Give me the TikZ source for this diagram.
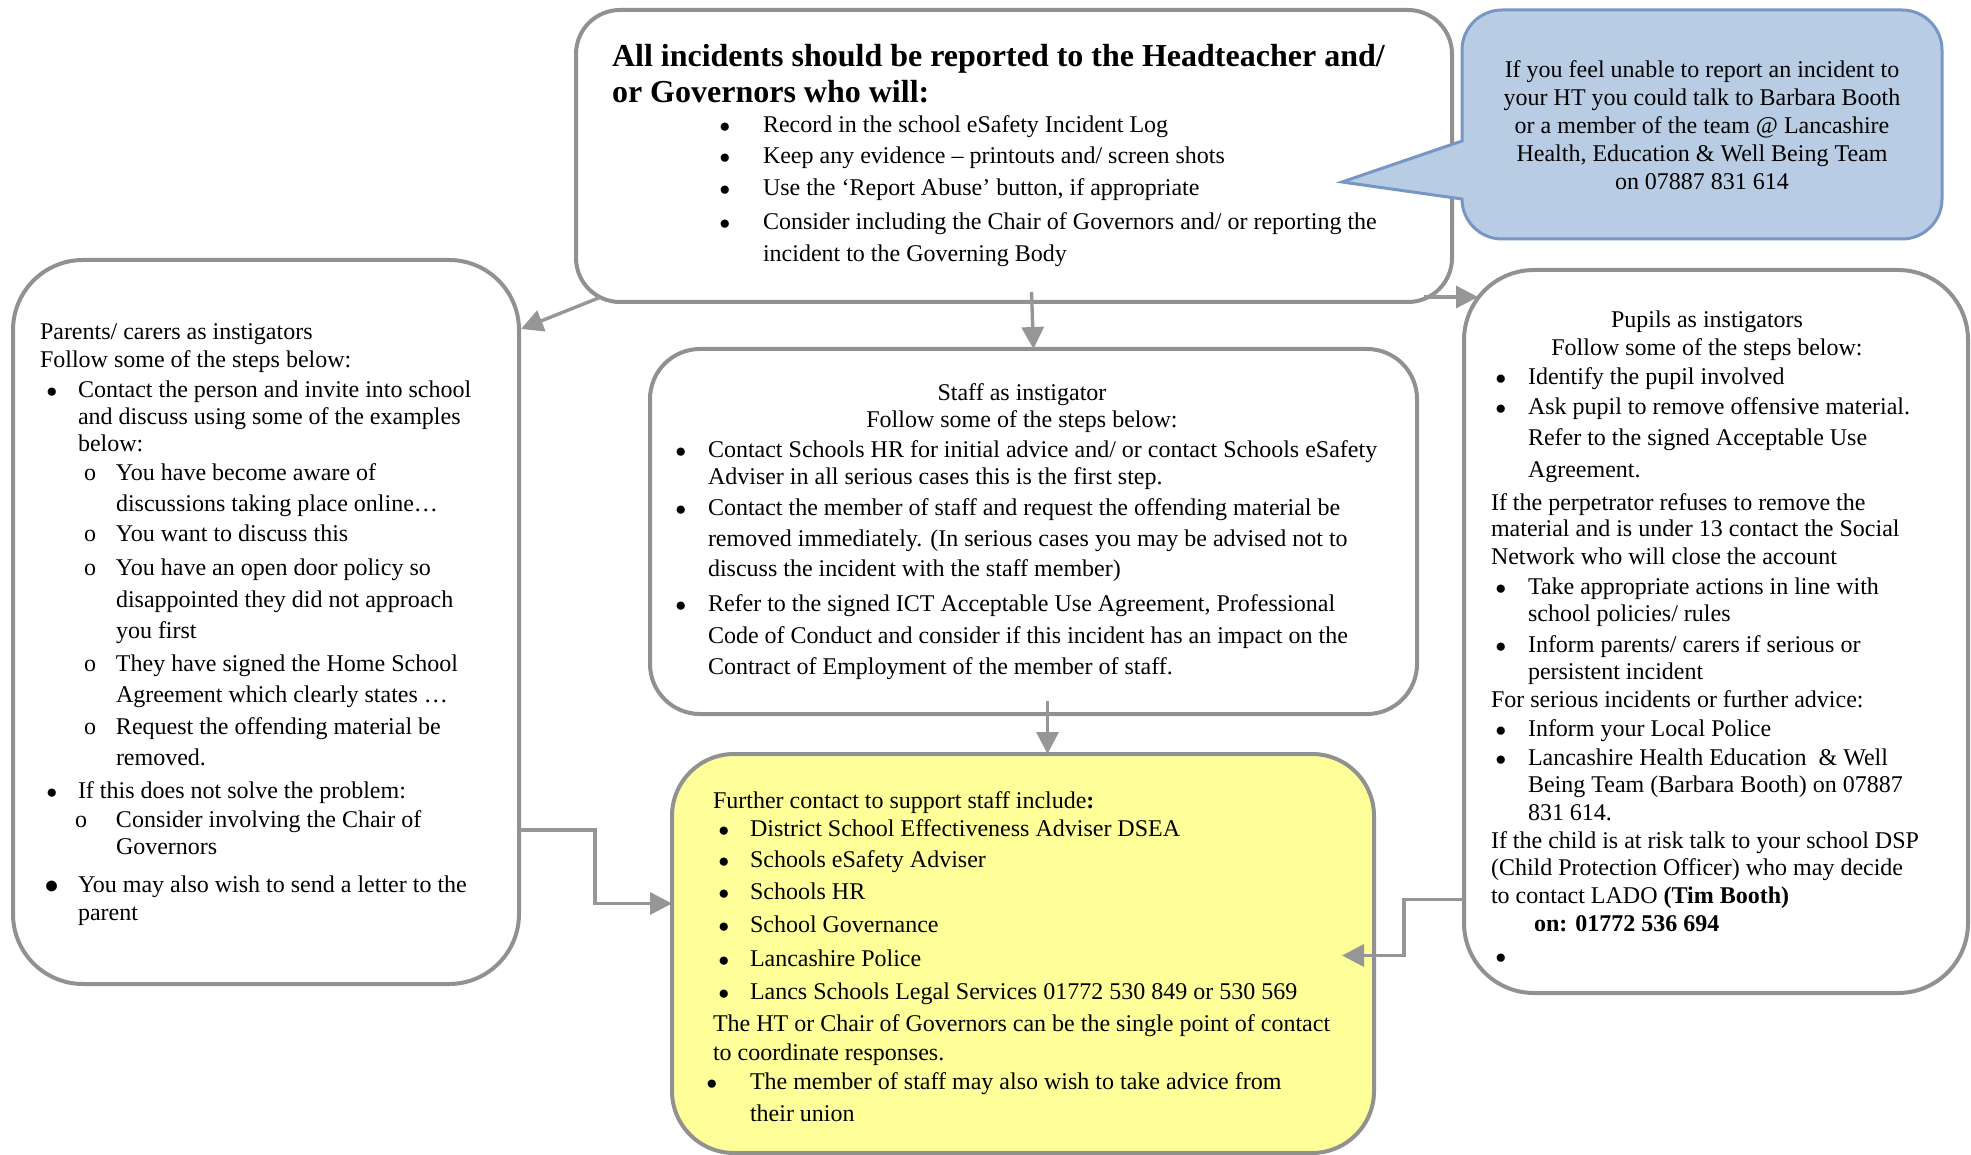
\documentclass[tikz,border=0pt]{standalone}
\usepackage{fontspec}
\setmainfont{Liberation Serif}
\usetikzlibrary{arrows.meta,calc}
\definecolor{bordergray}{RGB}{145,145,145}
\definecolor{arrgray}{RGB}{150,150,150}
\definecolor{yel}{RGB}{255,255,153}
\definecolor{callfill}{RGB}{184,204,228}
\definecolor{callborder}{RGB}{120,150,195}
\newcommand\bigbul{\raisebox{0.2pt}{\fontsize{9.5}{9.5}\selectfont ●}}
\newcommand\lbul[3]{\hspace*{#1}\makebox[#2][l]{\bigbul}#3}
\newcommand\lcont[2]{\hspace*{#1}#2}
\newcommand\lsub[3]{\hspace*{#1}\makebox[#2][l]{o}#3}
\begin{document}
\begin{tikzpicture}[x=0.5pt,y=-0.5pt,
  box/.style={draw=bordergray,line width=2pt,rounded corners=#1,anchor=north west,inner sep=0pt,outer sep=0pt},
  txt/.style={inner sep=0pt,outer sep=0pt,align=left,font={\fontsize{12}{13.5}\selectfont}},
  ctxt/.style={inner sep=0pt,outer sep=0pt,align=center,font={\fontsize{12}{13.5}\selectfont}},
  arr/.style={draw=arrgray,line width=1.7pt,-{Triangle[length=11pt,width=11pt]}},
  callbubble/.style={draw=callborder,fill=callfill,line width=1.5pt}]
\useasboundingbox (0,0) rectangle (1971,1155);

% boxes
\node[box=22pt,minimum width=438pt,minimum height=146pt] (top) at (576,10) {};
\node[box=35pt,minimum width=253pt,minimum height=362pt] (parents) at (13,260) {};
\node[box=25pt,minimum width=383.5pt,minimum height=182.5pt] (staff) at (650,349) {};
\node[box=31pt,fill=yel,minimum width=351pt,minimum height=199.5pt] (yellow) at (672,754) {};
\node[box=35pt,minimum width=252pt,minimum height=361.5pt] (pupils) at (1464,270) {};

% callout
\path[callbubble] (1462,100) -- (1462,141) -- (1342,182) -- (1462,199) [rounded corners=20pt] -- (1462,239) -- (1942,239) -- (1942,10) -- (1462,10) -- cycle;
\node[ctxt,anchor=north,font={\fontsize{12}{13.9}\selectfont}] (calltext) at (1702,61) {If you feel unable to report an incident to\\your HT you could talk to Barbara Booth\\or a member of the team @ Lancashire\\Health, Education \& Well Being Team\\on 07887 831 614};

% top text
\node[txt,anchor=north west,font={\bfseries\fontsize{16}{18}\selectfont}] (toptitle) at (612,44) {All incidents should be reported to the Headteacher and/\\or Governors who will:};
\node[txt,anchor=north west,font={\fontsize{12}{16}\selectfont}] (toplist) at (719,116) {%
\lbul{0pt}{22pt}{Record in the school eSafety Incident Log}\\[-0.5pt]
\lbul{0pt}{22pt}{Keep any evidence \textendash{} printouts and/ screen shots}\\
\lbul{0pt}{22pt}{Use the ‘Report Abuse’ button, if appropriate}\\[1pt]
\lbul{0pt}{22pt}{Consider including the Chair of Governors and/ or reporting the}\\
\lcont{22pt}{incident to the Governing Body}};

% parents text
\node[txt,anchor=north west] (parentstext) at (40,324) {%
Parents/ carers as instigators\\[0.25pt]
Follow some of the steps below:\\[1.75pt]
\lbul{3pt}{16pt}{Contact the person and invite into school}\\
\lcont{19pt}{and discuss using some of the examples}\\
\lcont{19pt}{below:}\\[1pt]
\lsub{22pt}{16pt}{You have become aware of}\\[2pt]
\lcont{38pt}{discussions taking place online…}\\[1.5pt]
\lsub{22pt}{16pt}{You want to discuss this}\\[3.5pt]
\lsub{22pt}{16pt}{You have an open door policy so}\\[2.5pt]
\lcont{38pt}{disappointed they did not approach}\\[2pt]
\lcont{38pt}{you first}\\[3pt]
\lsub{22pt}{16pt}{They have signed the Home School}\\[2pt]
\lcont{38pt}{Agreement which clearly states …}\\[2.5pt]
\lsub{22pt}{16pt}{Request the offending material be}\\[2pt]
\lcont{38pt}{removed.}\\[3pt]
\lbul{3pt}{16pt}{If this does not solve the problem:}\\[1pt]
\lsub{17.5pt}{20.5pt}{Consider involving the Chair of}\\
\lcont{38pt}{Governors}\\[5.5pt]
\hspace*{2pt}\makebox[17pt][l]{\raisebox{-0.3pt}{\fontsize{12.5}{12.5}\selectfont ●}}You may also wish to send a letter to the\\[0.5pt]
\lcont{19pt}{parent}};

% staff text
\node[ctxt,anchor=north] (stafftitle) at (1022,384) {Staff as instigator\\Follow some of the steps below:};
\node[txt,anchor=north west] (stafftext) at (675,441) {%
\lbul{0pt}{16.5pt}{Contact Schools HR for initial advice and/ or contact Schools eSafety}\\
\lcont{16.5pt}{Adviser in all serious cases this is the first step.}\\[2pt]
\lbul{0pt}{16.5pt}{Contact the member of staff and request the offending material be}\\[2pt]
\lcont{16.5pt}{removed immediately. (In serious cases you may be advised not to}\\[1.5pt]
\lcont{16.5pt}{discuss the incident with the staff member)}\\[4pt]
\lbul{0pt}{16.5pt}{Refer to the signed ICT Acceptable Use Agreement, Professional}\\[2.5pt]
\lcont{16.5pt}{Code of Conduct and consider if this incident has an impact on the}\\[2pt]
\lcont{16.5pt}{Contract of Employment of the member of staff.}};

% yellow text
\node[txt,anchor=north west] (yellowtext) at (706,791.5) {%
\lcont{3.5pt}{Further contact to support staff include\textbf{:}}\\[0.75pt]
\lbul{6pt}{16pt}{District School Effectiveness Adviser DSEA}\\[1.75pt]
\lbul{6pt}{16pt}{Schools eSafety Adviser}\\[2.75pt]
\lbul{6pt}{16pt}{Schools HR}\\[3pt]
\lbul{6pt}{16pt}{School Governance}\\[3.5pt]
\lbul{6pt}{16pt}{Lancashire Police}\\[2.75pt]
\lbul{6pt}{16pt}{Lancs Schools Legal Services 01772 530 849 or 530 569}\\[2.75pt]
\lcont{3.5pt}{The HT or Chair of Governors can be the single point of contact}\\[1pt]
\lcont{3.5pt}{to coordinate responses.}\\[1pt]
\lbul{0pt}{22pt}{The member of staff may also wish to take advice from}\\[2.25pt]
\lcont{22pt}{their union}};

% pupils text
\node[ctxt,anchor=north,font={\fontsize{12}{14}\selectfont}] (pupilstitle) at (1707,311) {Pupils as instigators\\Follow some of the steps below:};
\node[txt,anchor=north west] (pupilstext) at (1491,368) {%
\lbul{2pt}{16.5pt}{Identify the pupil involved}\\[1.5pt]
\lbul{2pt}{16.5pt}{Ask pupil to remove offensive material.}\\[2pt]
\lcont{18.5pt}{Refer to the signed Acceptable Use}\\[2.5pt]
\lcont{18.5pt}{Agreement.}\\[2.75pt]
If the perpetrator refuses to remove the\\[-0.25pt]
material and is under 13 contact the Social\\[0.25pt]
Network who will close the account\\[1.75pt]
\lbul{2pt}{16.5pt}{Take appropriate actions in line with}\\
\lcont{18.5pt}{school policies/ rules}\\[1.75pt]
\lbul{2pt}{16.5pt}{Inform parents/ carers if serious or}\\[0.25pt]
\lcont{18.5pt}{persistent incident}\\[0.5pt]
For serious incidents or further advice:\\[1pt]
\lbul{2pt}{16.5pt}{Inform your Local Police}\\[1pt]
\lbul{2pt}{16.5pt}{Lancashire Health Education \ \& Well}\\
\lcont{18.5pt}{Being Team (Barbara Booth) on 07887}\\[0.5pt]
\lcont{18.5pt}{831 614.}\\[0.5pt]
If the child is at risk talk to your school DSP\\
(Child Protection Officer) who may decide\\[0.5pt]
to contact LADO \textbf{(Tim Booth)}\\[0.25pt]
\lcont{21.5pt}{\textbf{on: 01772 536 694}}\\[2.75pt]
\lbul{2pt}{16.5pt}{}};

% connectors
\draw[arr] ([shift={(25,-5)}]top.south west) -- ([shift={(2,69)}]parents.north east);
\draw[arr] ([shift={(-2,-10)}]top.south -| staff.north) -- (staff.north);
\draw[arr] ([shift={(-28,-5)}]top.south east) -- ([shift={(14,27)}]pupils.north west);
\draw[arr] ([shift={(14,-13)}]staff.south) -- ([shift={(14,0)}]staff.south |- yellow.north);
\draw[arr] ([shift={(0,208)}]parents.east) -- ++(76,0) |- ([shift={(0,-50)}]yellow.west);
\draw[arr] ([shift={(0,268)}]pupils.west) -- ++(-60,0) |- ([shift={(-32,2)}]yellow.east);
\end{tikzpicture}
\end{document}
